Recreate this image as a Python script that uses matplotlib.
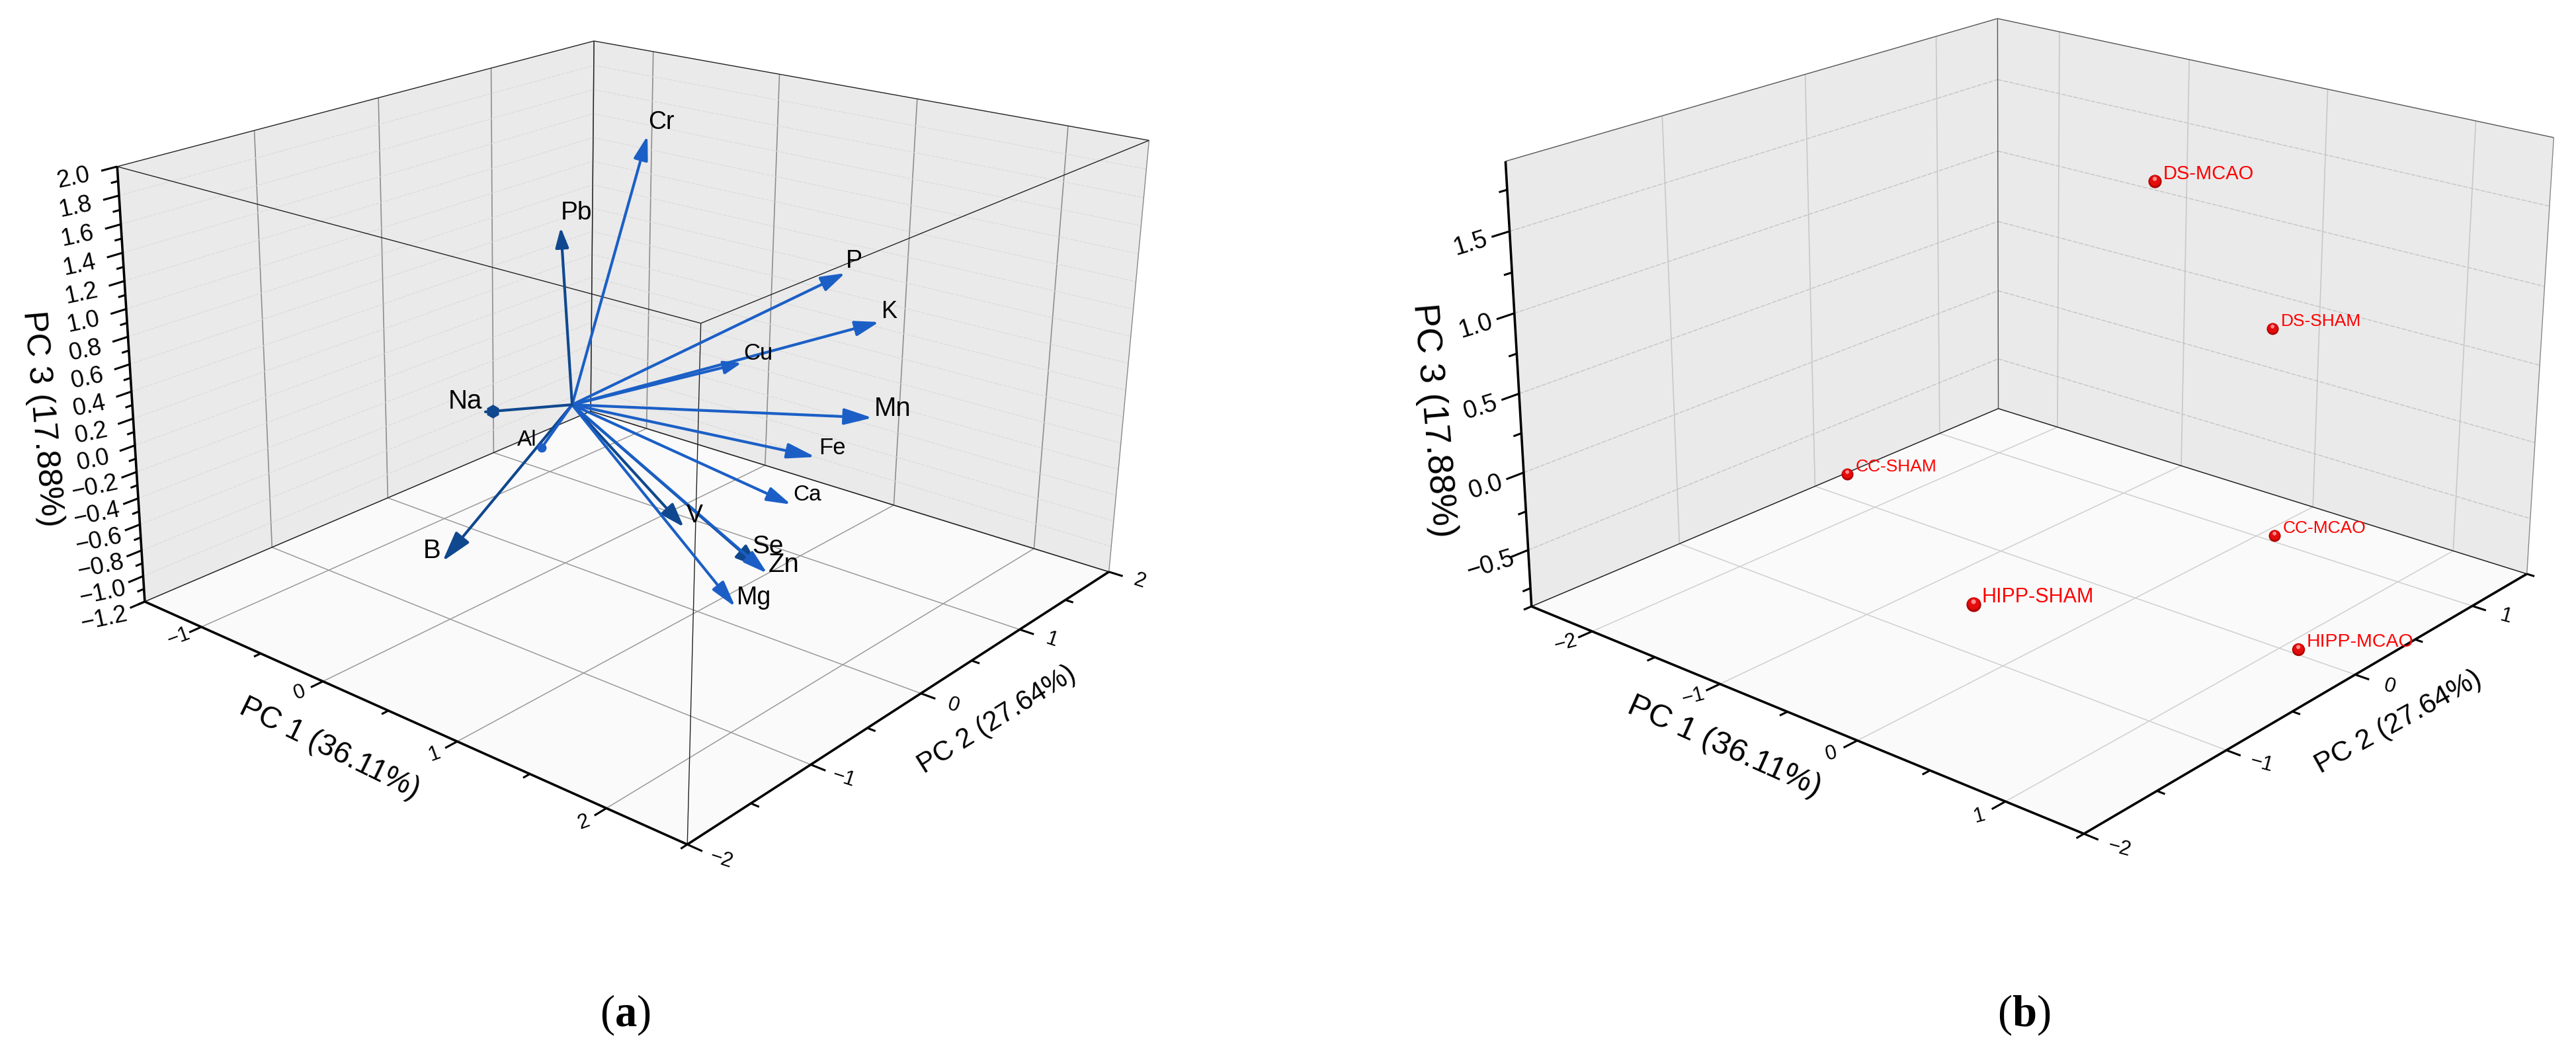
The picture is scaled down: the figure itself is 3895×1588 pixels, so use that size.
import numpy as np
import matplotlib
matplotlib.use("Agg")
import matplotlib.pyplot as plt
from matplotlib.markers import MarkerStyle
from matplotlib.patches import FancyArrowPatch
from matplotlib.transforms import Affine2D
from mpl_toolkits.mplot3d.art3d import Poly3DCollection

W, H = 3895, 1588

plt.rcParams["font.family"] = ["Liberation Sans", "DejaVu Sans"]
plt.rcParams["mathtext.fontset"] = "custom"
plt.rcParams["mathtext.rm"] = "Liberation Serif"
plt.rcParams["mathtext.bf"] = "Liberation Serif:bold"

# ---------------- data, panel a (loadings) ----------------
elements = ["Cr", "Pb", "P", "K", "Cu", "Mn", "Fe", "Ca", "V", "Se", "Zn", "Mg", "B", "Al", "Na"]
load_pc1 = [-0.021, -0.319, 1.097, 1.340, 0.726, 1.470, 1.263, 1.243, 0.785, 1.232, 1.284, 1.215, -0.180, -0.030, -0.344]
load_pc2 = [0.740, 0.314, 1.188, 1.195, 0.716, 0.979, 0.728, 0.534, 0.132, 0.262, 0.269, 0.070, -0.870, -0.180, -0.321]
load_pc3 = [1.832, 1.198, 0.949, 0.648, 0.326, 0.044, -0.224, -0.516, -0.686, -0.887, -0.916, -1.113, -0.880, -0.230, -0.002]
origin = [0.016, 0.036, 0.035]

# ---------------- data, panel b (scores) ----------------
groups = ["DS-MCAO", "DS-SHAM", "CC-SHAM", "CC-MCAO", "HIPP-SHAM", "HIPP-MCAO"]
score_pc1 = [-0.324, 0.341, -1.034, 0.689, -0.356, 1.013]
score_pc2 = [0.464, 0.672, -1.090, 0.312, -0.856, 0.139]
score_pc3 = [1.557, 0.722, 0.061, -0.378, -0.657, -0.934]

a_xticks = [-1, 0, 1, 2]
a_yticks = [-2, -1, 0, 1, 2]
a_zticks = [-1.2, -1.0, -0.8, -0.6, -0.4, -0.2, 0.0, 0.2, 0.4, 0.6, 0.8, 1.0, 1.2, 1.4, 1.6, 1.8, 2.0]
b_xticks = [-2, -1, 0, 1]
b_yticks = [-2, -1, 0, 1]
b_zticks = [-0.5, 0.0, 0.5, 1.0, 1.5]

# ---------------- box limits and where its corners sit in the image ----------------
a_lims = ((-1.5, 2.5), (-2, 2), (-1.2, 2.0))
a_corners = [((-1.5, -2, 2.0), (172, 247)), ((-1.5, 2, 2.0), (911, 61)), ((2.5, 2, 2.0), (1733, 215)),
             ((2.5, -2, 2.0), (1052, 493)), ((-1.5, -2, -1.2), (227, 908)), ((-1.5, 2, -1.2), (878, 628)),
             ((2.5, 2, -1.2), (1684, 856)), ((2.5, -2, -1.2), (1042, 1281))]
b_lims = ((-2.5, 1.5), (-2, 1.5), (-0.87, 1.92))
b_corners = [((-2.5, -2, 1.92), (2276, 244)), ((-2.5, 1.5, 1.92), (3021, 28)), ((1.5, 1.5, 1.92), (3861, 208)),
             ((-2.5, -2, -0.87), (2316, 917)), ((-2.5, 1.5, -0.87), (3021, 618)), ((1.5, 1.5, -0.87), (3821, 868)),
             ((1.5, -2, -0.87), (3151, 1261))]


def fit_camera(corners):
    rows = []
    for (x, y, z), (u, v) in corners:
        rows.append([x, y, z, 1, 0, 0, 0, 0, -u*x, -u*y, -u*z, -u])
        rows.append([0, 0, 0, 0, x, y, z, 1, -v*x, -v*y, -v*z, -v])
    return np.linalg.svd(np.array(rows, float))[2][-1].reshape(3, 4)


def make_axes(fig, rect, corners):
    # the reference is a perspective box, so mplot3d gets the fitted camera
    cam = fit_camera(corners)
    ax = fig.add_axes(rect, projection="3d", computed_zorder=False)
    ax.set_axis_off()
    ax.patch.set_visible(False)
    flip = np.array([[1, 0, 0], [0, -1, H], [0, 0, 1]], float)

    def get_proj():
        q = ax.transData.get_affine().inverted().get_matrix() @ flip @ cam
        return np.vstack([q[0], q[1], [0, 0, 0, 1], q[2]])

    ax.get_proj = get_proj
    ax.cam = cam
    return ax


class Arrow3D(FancyArrowPatch):
    def __init__(self, xs, ys, zs, **kw):
        super().__init__((0, 0), (0, 0), **kw)
        self.verts3d = np.array([xs, ys, zs, [1, 1]], float)

    def do_3d_projection(self, renderer=None):
        v = self.axes.M @ self.verts3d
        self.set_positions((v[0, 0]/v[3, 0], v[1, 0]/v[3, 0]), (v[0, 1]/v[3, 1], v[1, 1]/v[3, 1]))
        return 0


def fig_text(fig, x, y, s, **kw):
    kw.setdefault("ha", "center")
    kw.setdefault("va", "center")
    fig.text(x/W, 1 - y/H, s, **kw)


def label(ax, x, y, z, s, angle=0, dx=0, dy=0, **kw):
    # texts go on the figure, at the place the camera shows this 3D point
    q = ax.cam @ np.array([x, y, z, 1.0])
    fig_text(ax.figure, q[0]/q[2] + dx, q[1]/q[2] - dy, s, rotation=angle, **kw)


def seg(ax, a, b, color, lw, zorder=3, **kw):
    ax.plot([a[0], b[0]], [a[1], b[1]], [a[2], b[2]], color=color, lw=lw, zorder=zorder,
            clip_on=False, solid_capstyle="butt", **kw)


def draw_box(ax, lims, xticks, yticks, zticks, s):
    (x0, x1), (y0, y1), (z0, z1) = lims
    walls = [[(x0, y0, z0), (x0, y1, z0), (x0, y1, z1), (x0, y0, z1)],
             [(x0, y1, z0), (x1, y1, z0), (x1, y1, z1), (x0, y1, z1)]]
    floor = [[(x0, y0, z0), (x1, y0, z0), (x1, y1, z0), (x0, y1, z0)]]
    for verts, col in ((walls, "#EAEAEA"), (floor, "#FAFAFA")):
        poly = Poly3DCollection(verts, facecolors=col, edgecolors="none", zorder=1)
        ax.add_collection3d(poly)
        poly.set_clip_on(False)

    # grid
    for x in xticks:
        seg(ax, (x, y0, z0), (x, y1, z0), s["floor_grid"], 1.1, zorder=2)
        seg(ax, (x, y1, z0), (x, y1, z1), s["wall_grid"], 1.2, zorder=2)
    for y in yticks:
        if y == y0:
            continue
        seg(ax, (x0, y, z0), (x1, y, z0), s["floor_grid"], 1.1, zorder=2)
        seg(ax, (x0, y, z0), (x0, y, z1), s["wall_grid"], 1.2, zorder=2)
    for z in zticks:
        if z == z0 or z == z1:
            continue
        seg(ax, (x0, y0, z), (x0, y1, z), s["z_grid"], s["z_lw"], zorder=2, ls=(0, (5, 1.5)))
        seg(ax, (x0, y1, z), (x1, y1, z), s["z_grid"], s["z_lw"], zorder=2, ls=(0, (5, 1.5)))

    # thin frame
    seg(ax, (x0, y0, z1), (x0, y1, z1), s["frame"], 1.0)
    seg(ax, (x0, y1, z1), (x1, y1, z1), s["frame"], 1.0)
    seg(ax, (x0, y1, z0), (x0, y1, z1), s["frame"], 1.0)
    seg(ax, (x0, y0, z0), (x0, y1, z0), "#222222", 1.1)
    seg(ax, (x0, y1, z0), (x1, y1, z0), "#222222", 1.1)
    seg(ax, (x1, y1, z0), (x1, y1, z1), "#888888", 1.0)
    if s["front"]:
        seg(ax, (x0, y0, z1), (x1, y0, z1), "#222222", 1.0)
        seg(ax, (x1, y0, z1), (x1, y1, z1), "#222222", 1.0)
        seg(ax, (x1, y0, z0), (x1, y0, z1), "#222222", 1.0)

    # axis lines
    seg(ax, (x0, y0, z0), (x1, y0, z0), "black", 2.6, zorder=4)
    seg(ax, (x1, y0, z0), (x1, y1, z0), "black", 2.6, zorder=4)
    seg(ax, (x0, y0, z0), (x0, y0, z1), "black", 2.6, zorder=4)

    # ticks, minor ones halfway between majors
    for x in np.arange(x0, x1 + 1e-6, 0.5):
        major = any(abs(x - t) < 1e-6 for t in xticks)
        seg(ax, (x, y0, z0), (x, y0 - (0.09 if major else 0.05), z0), "black", 2.2, zorder=4)
    for x in xticks:
        label(ax, x, y0 - s["xlab"], z0, f"{x}".replace("-", "\u2212"), angle=s["xang"], fontsize=s["tick_fs"])
    for y in np.arange(y0, y1 + 1e-6, 0.5):
        major = any(abs(y - t) < 1e-6 for t in yticks)
        seg(ax, (x1, y, z0), (x1 + (0.09 if major else 0.05), y, z0), "black", 2.2, zorder=4)
    for y in yticks:
        label(ax, x1 + s["ylab"], y, z0, f"{y}".replace("-", "\u2212"), angle=s["yang"], fontsize=s["tick_fs"])
    step = zticks[1] - zticks[0]
    for z in np.arange(zticks[0] - step, z1 + 1e-6, step/2):
        if z < z0 - 1e-6:
            continue
        major = any(abs(z - t) < 1e-6 for t in zticks)
        seg(ax, (x0, y0, z), (x0, y0 - (0.11 if major else 0.05), z), "black", 2.2, zorder=4)
    for z in zticks:
        label(ax, x0, y0 - s["zlab"], z, f"{z:.1f}".replace("-", "\u2212"), angle=s["zang"], fontsize=s["ztick_fs"])


fig = plt.figure(figsize=(W/100, H/100), dpi=100, facecolor="white")

# ==========================================================
# (a) loadings
# ==========================================================
ax_a = make_axes(fig, [0.02, 0.02, 0.4, 0.96], a_corners)
draw_box(ax_a, a_lims, a_xticks, a_yticks, a_zticks,
         dict(floor_grid="#9A9A9A", wall_grid="#8E8E8E", z_grid="#DADADA", z_lw=0.8, frame="#222222", front=True,
              xlab=0.17, ylab=0.20, zlab=0.30, xang=20, yang=-18, zang=12, tick_fs=22, ztick_fs=26))

BLUE = "#1B5FC6"
DARK = "#10488F"
# colour, head length (pt), head half width (pt), label size, label offset (px)
arrow_style = {
    "Cr": (BLUE, 22, 6.5, 27, (21, 20)), "Pb": (DARK, 18, 6, 28, (24, 22)), "P": (BLUE, 22, 7, 27, (14, 18)),
    "K": (BLUE, 22, 7, 26, (16, 16)), "Cu": (BLUE, 16, 6, 25, (25, 15)), "Mn": (BLUE, 26, 7.5, 29, (31, 14)),
    "Fe": (BLUE, 26, 7, 25, (25, 14)), "Ca": (BLUE, 22, 6.5, 24, (24, 14)), "V": (DARK, 22, 7.5, 27, (16, 17)),
    "Se": (DARK, 22, 8, 28, (13, 31)), "Zn": (BLUE, 22, 6.5, 29, (25, 13)), "Mg": (BLUE, 24, 6.5, 27, (28, 14)),
    "B": (DARK, 28, 8, 29, (-16, 16)), "Al": (BLUE, 0, 0, 24, (-22, 12)), "Na": (DARK, 0, 0, 29, (-31, 16)),
}
# these two cones point at the viewer and show as a blob: marker, size, place along the arrow
blobs = {"Al": ("o", 10, 1.0), "Na": ("h", 15, 0.92)}
for name, x, y, z in zip(elements, load_pc1, load_pc2, load_pc3):
    col, hl, hw, fs, off = arrow_style[name]
    head = f"-|>,head_length={hl},head_width={hw}" if hl else "-"
    arrow = Arrow3D([origin[0], x], [origin[1], y], [origin[2], z], arrowstyle=head, mutation_scale=1,
                    shrinkA=0, shrinkB=0, color=col, lw=3, zorder=5, clip_on=False)
    ax_a.add_artist(arrow)
    if name in blobs:
        mk, ms, t = blobs[name]
        ax_a.plot([origin[0] + t*(x - origin[0])], [origin[1] + t*(y - origin[1])], [origin[2] + t*(z - origin[2])],
                  mk, ms=ms, color=col, mec="none", zorder=5, clip_on=False)
    label(ax_a, x, y, z, name, dx=off[0], dy=off[1], fontsize=fs, color="black")

fig_text(fig, 63, 633, "PC 3 (17.88%)", rotation=-85, fontsize=36)
fig_text(fig, 498, 1132, "PC 1 (36.11%)", rotation=-26, fontsize=33)
fig_text(fig, 1507, 1089, "PC 2 (27.64%)", rotation=32, fontsize=30)
fig_text(fig, 945, 1535, r"($\mathbf{a}$)", fontsize=48, family="Liberation Serif")

# ==========================================================
# (b) scores
# ==========================================================
ax_b = make_axes(fig, [0.55, 0.02, 0.4, 0.96], b_corners)
draw_box(ax_b, b_lims, b_xticks, b_yticks, b_zticks,
         dict(floor_grid="#CFCFCF", wall_grid="#C8C8C8", z_grid="#C4C4C4", z_lw=1.0, frame="#555555", front=False,
              xlab=0.17, ylab=0.22, zlab=0.24, xang=15, yang=-15, zang=17, tick_fs=22, ztick_fs=27))

label_fs = {"DS-MCAO": 21, "DS-SHAM": 19, "CC-SHAM": 19, "CC-MCAO": 19, "HIPP-SHAM": 22, "HIPP-MCAO": 20.5}
sphere_ms = {"DS-MCAO": 14.5, "DS-SHAM": 13, "CC-SHAM": 13, "CC-MCAO": 13, "HIPP-SHAM": 16, "HIPP-MCAO": 14}
mid_disc = MarkerStyle("o", transform=Affine2D().scale(0.82).translate(0, 0.07))
shine = MarkerStyle("o", transform=Affine2D().scale(0.32).translate(-0.02, 0.2))
for name, x, y, z in zip(groups, score_pc1, score_pc2, score_pc3):
    ms = sphere_ms[name]
    ax_b.plot([x], [y], [z], "o", ms=ms, mfc="#B00000", mec="none", zorder=5, clip_on=False)
    ax_b.plot([x], [y], [z], ls="none", marker=mid_disc, ms=ms, mfc="#E40C0C", mec="none", zorder=5, clip_on=False)
    ax_b.plot([x], [y], [z], ls="none", marker=shine, ms=ms, mfc="#FF8C8C", mec="none", zorder=5, clip_on=False)
    label(ax_b, x, y, z, name, dx=13, dy=11, ha="left", fontsize=label_fs[name], color="#FF0000")

fig_text(fig, 2167, 636, "PC 3 (17.88%)", rotation=-85, fontsize=39)
fig_text(fig, 2607, 1130, "PC 1 (36.11%)", rotation=-24, fontsize=35)
fig_text(fig, 3626, 1092, "PC 2 (27.64%)", rotation=29, fontsize=31)
fig_text(fig, 3060, 1535, r"($\mathbf{b}$)", fontsize=48, family="Liberation Serif")

fig.savefig("out.png", dpi=100)
